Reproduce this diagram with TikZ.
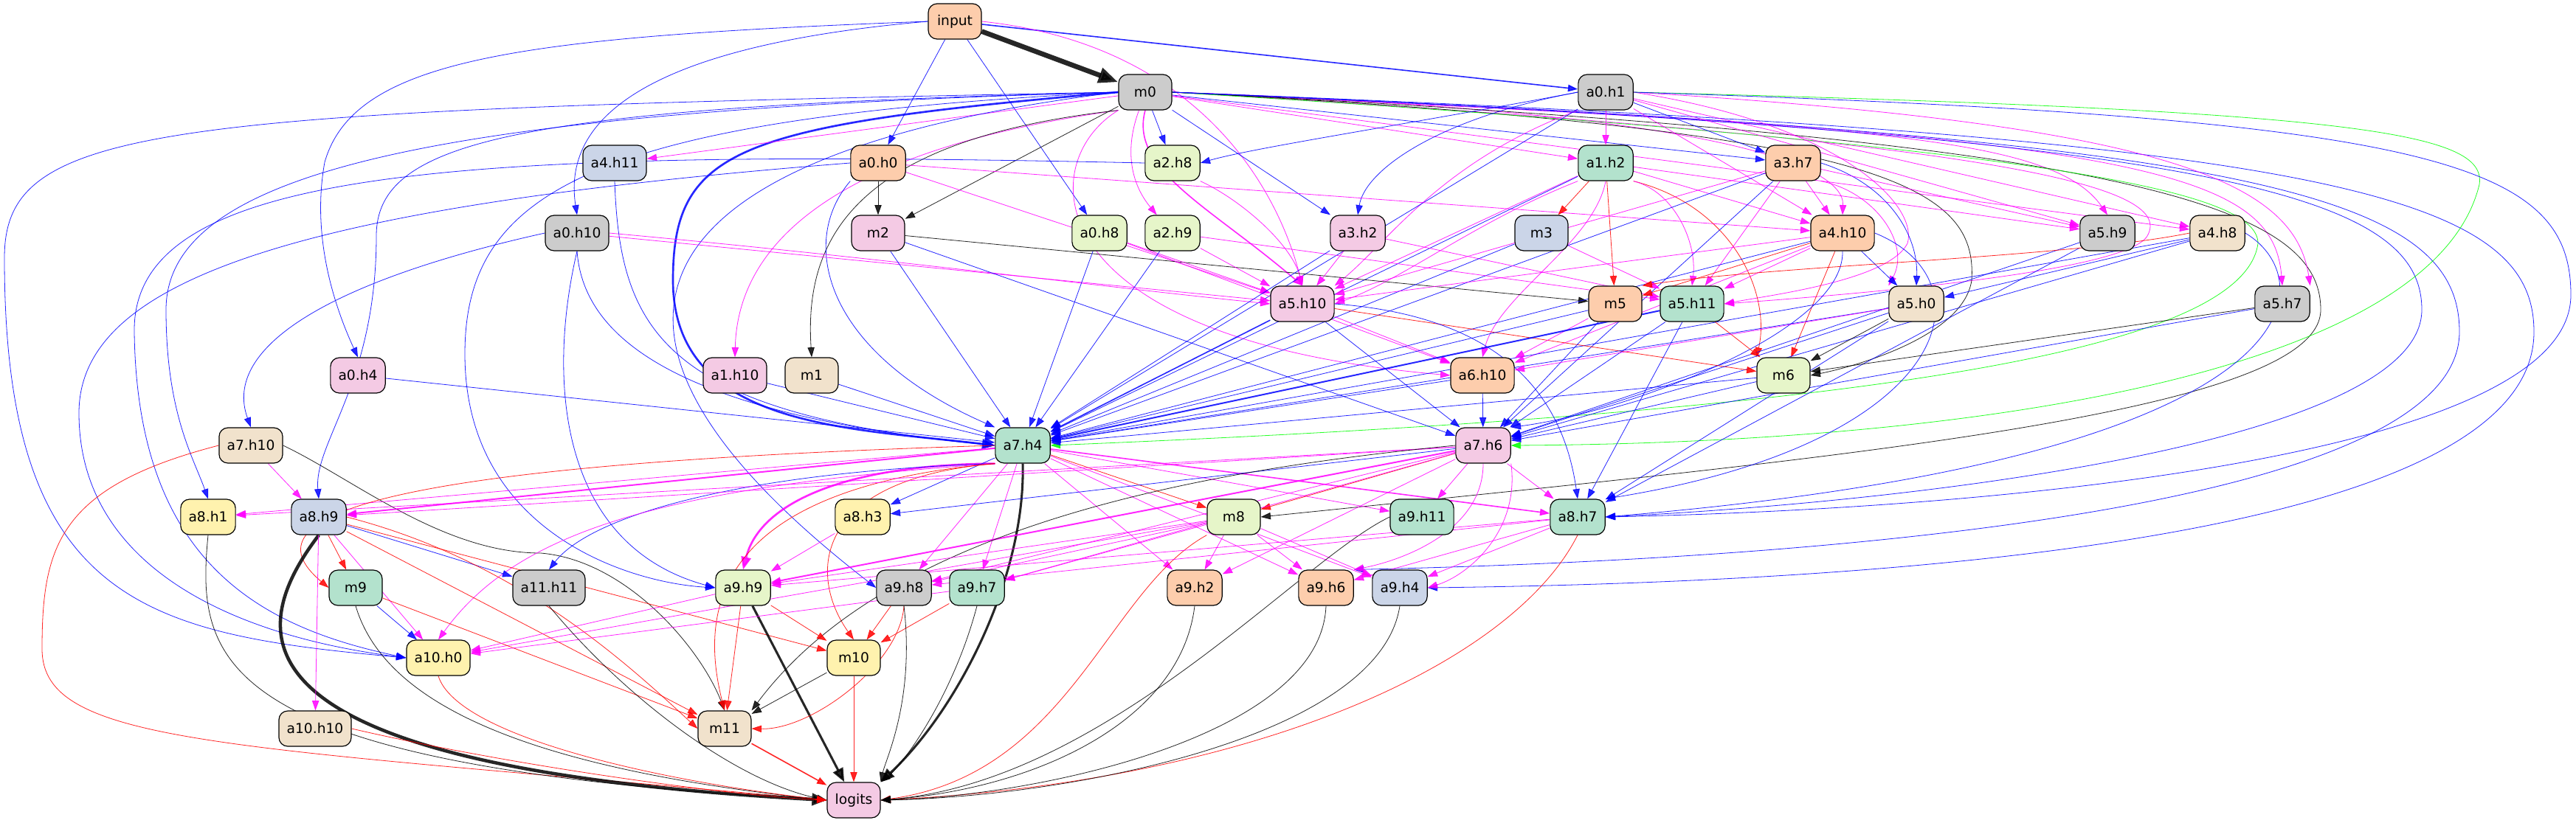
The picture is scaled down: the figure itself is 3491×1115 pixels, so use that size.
\documentclass[tikz,border=0pt]{standalone}
\usepackage{fontspec}
\setmainfont{DejaVu Sans}
\usetikzlibrary{arrows.meta}
\definecolor{cgreen}{HTML}{B3E2CD}
\definecolor{corange}{HTML}{FDCDAC}
\definecolor{cblue}{HTML}{CBD5E8}
\definecolor{cpink}{HTML}{F4CAE4}
\definecolor{clime}{HTML}{E6F5C9}
\definecolor{cyellow}{HTML}{FFF2AE}
\definecolor{cbeige}{HTML}{F1E2CC}
\definecolor{cgray}{HTML}{CCCCCC}
\definecolor{wmag}{RGB}{255,0,255}
\definecolor{wblue}{RGB}{0,0,255}
\definecolor{wred}{RGB}{255,0,0}
\definecolor{wgreen}{RGB}{0,255,0}
\pgfdeclarelayer{wires}
\pgfsetlayers{wires,main}
\tikzset{
  box/.style={draw, line width=0.9pt, rounded corners=9pt, minimum width=54pt,
    minimum height=36pt, inner xsep=8pt, font=\fontsize{14}{17}\selectfont},
  lnk/.style={-{Triangle[length=10pt,width=7pt]}, line width=0.6pt, opacity=0.85},
  blu/.style={lnk, wblue},
  mag/.style={lnk, wmag},
  rd/.style={lnk, wred},
  blk/.style={lnk, black},
  grn/.style={lnk, wgreen},
}
\begin{document}
\begin{tikzpicture}[x=0.75pt,y=-0.75pt]
        \useasboundingbox (0,0) rectangle (3491,1115);
        % rank 0 and 1
        \node[box, fill=corange] (input) at (1294,29)  {input};
        \node[box, fill=cgray]   (m0)    at (1552,125) {m0};
        \node[box, fill=cgray]   (a0h1)  at (2176,125) {a0.h1};
        % rank 2
        \node[box, fill=cblue]   (a4h11) at (833,221)  {a4.h11};
        \node[box, fill=corange] (a0h0)  at (1190,221) {a0.h0};
        \node[box, fill=clime]   (a2h8)  at (1589,221) {a2.h8};
        \node[box, fill=cgreen]  (a1h2)  at (2176,221) {a1.h2};
        \node[box, fill=corange] (a3h7)  at (2430,221) {a3.h7};
        % rank 3
        \node[box, fill=cgray]   (a0h10) at (782,316)  {a0.h10};
        \node[box, fill=cpink]   (m2)    at (1190,316) {m2};
        \node[box, fill=clime]   (a0h8)  at (1490,316) {a0.h8};
        \node[box, fill=clime]   (a2h9)  at (1589,316) {a2.h9};
        \node[box, fill=cpink]   (a3h2)  at (1840,316) {a3.h2};
        \node[box, fill=cblue]   (m3)    at (2089,316) {m3};
        \node[box, fill=corange] (a4h10) at (2497,316) {a4.h10};
        \node[box, fill=cgray]   (a5h9)  at (2856,316) {a5.h9};
        \node[box, fill=cbeige]  (a4h8)  at (3005,316) {a4.h8};
        % rank 4
        \node[box, fill=cpink]   (a5h10) at (1765,412) {a5.h10};
        \node[box, fill=corange] (m5)    at (2189,412) {m5};
        \node[box, fill=cgreen]  (a5h11) at (2293,412) {a5.h11};
        \node[box, fill=cbeige]  (a5h0)  at (2597,412) {a5.h0};
        \node[box, fill=cgray]   (a5h7)  at (3093,412) {a5.h7};
        % rank 5
        \node[box, fill=cpink]   (a0h4)  at (485,509)  {a0.h4};
        \node[box, fill=cpink]   (a1h10) at (996,509)  {a1.h10};
        \node[box, fill=cbeige]  (m1)    at (1100,509) {m1};
        \node[box, fill=corange] (a6h10) at (2009,509) {a6.h10};
        \node[box, fill=clime]   (m6)    at (2417,509) {m6};
        % rank 6
        \node[box, fill=cbeige]  (a7h10) at (340,604)  {a7.h10};
        \node[box, fill=cgreen]  (a7h4)  at (1386,604) {a7.h4};
        \node[box, fill=cpink]   (a7h6)  at (2010,604) {a7.h6};
        % rank 7
        \node[box, fill=cyellow] (a8h1)  at (282,701)  {a8.h1};
        \node[box, fill=cblue]   (a8h9)  at (432,701)  {a8.h9};
        \node[box, fill=cyellow] (a8h3)  at (1169,701) {a8.h3};
        \node[box, fill=clime]   (m8)    at (1672,701) {m8};
        \node[box, fill=cgreen]  (a9h11) at (1927,701) {a9.h11};
        \node[box, fill=cgreen]  (a8h7)  at (2138,701) {a8.h7};
        % rank 8
        \node[box, fill=cgreen]  (m9)    at (482,797)  {m9};
        \node[box, fill=cgray]   (a11h11) at (744,797) {a11.h11};
        \node[box, fill=clime]   (a9h9)  at (1007,797) {a9.h9};
        \node[box, fill=cgray]   (a9h8)  at (1225,797) {a9.h8};
        \node[box, fill=cgreen]  (a9h7)  at (1324,797) {a9.h7};
        \node[box, fill=corange] (a9h2)  at (1619,797) {a9.h2};
        \node[box, fill=corange] (a9h6)  at (1797,797) {a9.h6};
        \node[box, fill=cblue]   (a9h4)  at (1897,797) {a9.h4};
        % rank 9 to 11
        \node[box, fill=cyellow] (a10h0) at (594,892)  {a10.h0};
        \node[box, fill=cyellow] (m10)   at (1157,892) {m10};
        \node[box, fill=cbeige]  (a10h10) at (427,988) {a10.h10};
        \node[box, fill=cbeige]  (m11)   at (982,988)  {m11};
        \node[box, fill=cpink]   (logits) at (1157,1085) {logits};

        \begin{pgfonlayer}{wires}
        % input
        \draw[blk, line width=5pt, -{Triangle[length=20pt,width=15pt]}] (input) -- (m0);
        \draw[blu, line width=1.2pt] (input) -- (a0h1);
        \draw[blu] (input) -- (a0h0);
        \draw[blu] (input) -- (a0h8);
        \draw[mag] (input.east) .. controls (1620,60) and (1730,250) .. (a5h10.north);
        \draw[blu] (input.west) .. controls (700,50) and (480,80) .. (440,220) .. controls (420,330) and (460,430) .. (a0h4.north);
        \draw[blu] (input.west) .. controls (900,60) and (760,150) .. (a0h10.north);

        % m0
        \draw[blu, line width=2pt, -{Triangle[length=13pt,width=10pt]}] (m0.west) .. controls (1000,170) and (912,200) .. (912,380) .. controls (912,580) and (1150,580) .. (a7h4.west);
        \draw[mag] (m0) -- (a4h11);
        \draw[mag] (m0.south west) .. controls (1150,200) and (1000,320) .. (a1h10.north);
        \draw[blk] (m0.south west) .. controls (1150,190) and (1090,330) .. (m1.north);
        \draw[blk] (m0) -- (m2);
        \draw[blu] (m0) -- (a2h8);
        \draw[mag] (m0) to[bend right=30] (a2h9);
        \draw[mag, line width=1.2pt] (m0.south) .. controls (1530,230) and (1640,280) .. (a5h10.north);
        \draw[blu] (m0) -- (a3h2);
        \draw[mag] (m0) -- (a1h2);
        \draw[blu] (m0) -- (a3h7);
        \draw[mag] (m0.east) .. controls (2300,150) and (2500,220) .. (a4h10.north);
        \draw[mag] (m0.east) .. controls (2500,170) and (2780,180) .. (a5h9.north);
        \draw[mag] (m0) -- (a4h8);
        \draw[mag] (m0.east) .. controls (2900,180) and (3080,230) .. (a5h7.north);
        \draw[mag] (m0.east) .. controls (2700,190) and (2950,250) .. (2910,320) .. controls (2880,370) and (2500,400) .. (a5h11.east);
        \draw[mag] (m0.south west) .. controls (1400,220) and (1400,460) .. (a6h10.west);
        \draw[blk] (m0.east) .. controls (2550,175) and (2680,250) .. (2672,380) .. controls (2660,460) and (2500,500) .. (m6.east);
        \draw[blk] (m0.east) .. controls (2900,190) and (3145,280) .. (3145,420) .. controls (3145,560) and (2500,620) .. (m8.east);
        \draw[grn] (m0.east) .. controls (2800,200) and (3060,260) .. (3060,330) .. controls (3040,480) and (2500,560) .. (a7h4.east);
        \draw[blu] (m0.west) .. controls (600,150) and (225,230) .. (225,420) .. controls (225,560) and (262,620) .. (a8h1.north);
        \draw[blu] (m0.west) .. controls (700,145) and (510,190) .. (510,320) .. controls (510,520) and (425,600) .. (a8h9.north);
        \draw[blu] (m0.west) .. controls (200,150) and (6,170) .. (6,350) .. controls (6,820) and (200,860) .. (a10h0.west);
        \draw[blu] (m0.west) .. controls (800,160) and (630,260) .. (630,480) .. controls (630,720) and (850,790) .. (a9h9.west);
        \draw[blu] (m0.west) .. controls (900,200) and (700,420) .. (a9h8.west);
        \draw[blu] (m0.east) .. controls (3000,185) and (3282,260) .. (3282,420) .. controls (3282,600) and (2600,680) .. (a8h7.east);
        \draw[blu] (m0.east) .. controls (3050,185) and (3333,260) .. (3333,450) .. controls (3333,700) and (2400,760) .. (a9h6.north east);
        \draw[blu] (m0.east) .. controls (3150,185) and (3434,260) .. (3434,450) .. controls (3434,740) and (2500,790) .. (a9h4.east);

        % a0.h1
        \draw[mag] (a0h1) -- (a1h2);
        \draw[blu] (a0h1.west) .. controls (1900,170) and (1700,200) .. (a2h8.east);
        \draw[blu] (a0h1.west) .. controls (1950,160) and (1850,230) .. (a3h2.north);
        \draw[blu] (a0h1) -- (a3h7);
        \draw[mag] (a0h1) -- (a4h10);
        \draw[mag] (a0h1.south west) .. controls (1950,220) and (1880,330) .. (a5h10.north east);
        \draw[mag] (a0h1.east) .. controls (2500,170) and (2600,280) .. (2585,330) .. controls (2560,380) and (2400,400) .. (a5h11.east);
        \draw[mag] (a0h1) -- (a5h9);
        \draw[mag] (a0h1.east) .. controls (2950,170) and (3110,250) .. (a5h7.north east);
        \draw[mag] (a0h1) -- (a4h8);
        \draw[blu] (a0h1) -- (a7h4);
        \draw[grn] (a0h1.east) .. controls (3200,150) and (3370,180) .. (3360,250) .. controls (3300,500) and (2700,600) .. (a7h6.east);
        \draw[blu] (a0h1.east) .. controls (3300,160) and (3484,220) .. (3484,400) .. controls (3484,620) and (2700,690) .. (a8h7.east);

        % rank 2 sources
        \draw[blu] (a4h11.south) .. controls (840,450) and (900,560) .. (a7h4.west);
        \draw[blk] (a0h0) -- (m2);
        \draw[blu] (a0h0.south west) .. controls (1080,330) and (1120,480) .. (a7h4.north west);
        \draw[blu] (a0h0.west) .. controls (400,280) and (107,380) .. (107,560) .. controls (107,760) and (300,860) .. (a10h0.west);
        \draw[mag] (a0h0) -- (a4h10);
        \draw[mag] (a0h0) -- (a5h10);
        \draw[mag] (a2h8.south east) .. controls (1680,270) and (1750,330) .. (a5h10.north);
        \draw[blu] (a2h8.west) .. controls (600,200) and (179,230) .. (182,450) .. controls (186,760) and (350,850) .. (a10h0.west);
        \draw[rd] (a1h2) -- (m3);
        \draw[rd] (a1h2) -- (m5);
        \draw[rd] (a1h2.south east) .. controls (2350,280) and (2400,400) .. (m6.north west);
        \draw[mag] (a1h2) -- (a4h10);
        \draw[mag] (a1h2) -- (a5h9);
        \draw[mag] (a1h2) -- (a5h10);
        \draw[mag] (a1h2.south west) .. controls (2000,300) and (1900,380) .. (a5h10.east);
        \draw[mag] (a1h2.south east) .. controls (2270,260) and (2300,330) .. (a5h11.north);
        \draw[mag] (a1h2.south) .. controls (2160,330) and (2030,400) .. (a6h10.north);
        \draw[blu] (a1h2) -- (a7h4);
        \draw[mag] (a3h7) -- (a4h10);
        \draw[blu] (a3h7.east) .. controls (2560,250) and (2600,320) .. (a5h0.north);
        \draw[mag] (a3h7.south east) .. controls (2540,260) and (2590,330) .. (a5h0.north west);
        \draw[mag] (a3h7) -- (a5h9);
        \draw[mag] (a3h7) -- (a5h10);
        \draw[mag] (a3h7) -- (a5h11);
        \draw[blu] (a3h7) -- (a7h4);
        \draw[blu] (a3h7) -- (a7h6);

        % rank 3 sources
        \draw[mag] (a0h10) -- (a5h10);
        \draw[mag] (a0h10.east) .. controls (1200,350) and (1500,390) .. (a5h10.west);
        \draw[blu] (a0h10.south) .. controls (790,450) and (900,560) .. (a7h4.west);
        \draw[blu] (a0h10.south) .. controls (740,520) and (760,740) .. (a9h9.west);
        \draw[blu] (a0h10.west) .. controls (450,380) and (300,470) .. (a7h10.north);
        \draw[blk] (m2) -- (m5);
        \draw[blu] (m2) -- (a7h4);
        \draw[blu] (m2) -- (a7h6);
        \draw[blu] (a0h8) -- (a7h4);
        \draw[mag] (a0h8) -- (a5h10);
        \draw[mag] (a0h8) -- (a6h10);
        \draw[blu] (a2h9) -- (a7h4);
        \draw[mag] (a2h9) -- (a5h10);
        \draw[mag] (a2h9) -- (a5h11);
        \draw[mag] (a3h2) -- (a5h10);
        \draw[mag] (a3h2) -- (a5h11);
        \draw[blu] (a3h2) -- (a7h4);
        \draw[mag] (m3) -- (a5h11);
        \draw[blu] (m3) -- (a7h4);
        \draw[blu] (a4h10) -- (a5h0);
        \draw[rd] (a4h10) -- (m5);
        \draw[rd] (a4h10) -- (m6);
        \draw[mag] (a4h10) -- (a5h10);
        \draw[mag] (a4h10) -- (a5h11);
        \draw[mag] (a4h10) -- (a6h10);
        \draw[blu] (a4h10) -- (a7h4);
        \draw[blu] (a4h10.south) .. controls (2500,450) and (2200,560) .. (a7h6.north east);
        \draw[blu] (a4h10.east) .. controls (2700,380) and (2650,600) .. (a8h7.north east);
        \draw[blu] (a5h9) -- (a7h6);
        \draw[blu] (a5h9) -- (a8h7);
        \draw[blu] (a4h8) -- (a5h0);
        \draw[rd] (a4h8.west) .. controls (2800,350) and (2400,360) .. (m5.north east);
        \draw[blu] (a4h8) -- (a7h4);
        \draw[blu] (a4h8) -- (a7h6);
        \draw[blu] (a4h8.east) .. controls (3150,380) and (3150,620) .. (a8h7.east);

        % rank 4 sources
        \draw[blu, line width=1.2pt] (a5h10) -- (a7h4);
        \draw[blu] (a5h10) -- (a7h6);
        \draw[mag] (a5h10) -- (a6h10);
        \draw[rd] (a5h10) -- (m6);
        \draw[blu] (a5h10.east) .. controls (2050,430) and (2120,550) .. (a8h7.north);
        \draw[blu] (m5) -- (a7h4);
        \draw[blu] (m5) -- (a7h6);
        \draw[mag] (m5) -- (a6h10);
        \draw[blu, line width=1.5pt] (a5h11) -- (a7h4);
        \draw[blu] (a5h11) -- (a7h6);
        \draw[rd] (a5h11) -- (m6);
        \draw[blu] (a5h11) -- (a8h7);
        \draw[blk] (a5h0) -- (m6);
        \draw[blu] (a5h0) -- (a7h4);
        \draw[blu] (a5h0) -- (a7h6);
        \draw[blu] (a5h0) -- (a8h7);
        \draw[mag] (a5h0) -- (a6h10);
        \draw[blk] (a5h7) -- (m6);
        \draw[blu] (a5h7) -- (a7h6);

        % rank 5 sources
        \draw[blu] (a0h4) -- (a7h4);
        \draw[blu] (a1h10) -- (a7h4);
        \draw[blu] (m1) -- (a7h4);
        \draw[blu] (a6h10) -- (a7h6);
        \draw[blu] (a6h10) -- (a7h4);
        \draw[blu] (m6) -- (a7h4);
        \draw[blu] (m6) -- (a7h6);

        % rank 6 sources
        \draw[mag] (a7h10) -- (a8h9);
        \draw[blk] (a7h10.east) .. controls (480,650) and (600,750) .. (733,750) .. controls (850,760) and (950,880) .. (m11.north);
        \draw[rd] (a7h10.west) .. controls (80,660) and (57,740) .. (57,880) .. controls (57,1010) and (300,1010) .. (logits.west);
        \draw[blk, line width=2.3pt, -{Triangle[length=14pt,width=11pt]}] (a7h4.south) .. controls (1390,780) and (1300,960) .. (logits.north east);
        \draw[mag, line width=2pt, -{Triangle[length=13pt,width=10pt]}] (a7h4.south west) .. controls (1150,630) and (1030,680) .. (a9h9.north);
        \draw[mag, line width=1.5pt] (a7h4) -- (a8h9);
        \draw[mag] (a7h4) -- (a8h1);
        \draw[blu] (a7h4) -- (a8h3);
        \draw[rd] (a7h4) -- (m8);
        \draw[rd] (a7h4.west) .. controls (500,630) and (330,700) .. (m9.west);
        \draw[blu] (a7h4.south west) .. controls (1000,640) and (800,700) .. (a11h11.north);
        \draw[mag] (a7h4.south west) .. controls (900,660) and (700,720) .. (a10h0.north);
        \draw[rd] (a7h4.south west) .. controls (1100,650) and (1095,780) .. (m10.north);
        \draw[rd] (a7h4.south west) .. controls (1000,660) and (940,800) .. (m11.north);
        \draw[mag] (a7h4) -- (a9h8);
        \draw[mag] (a7h4) -- (a9h7);
        \draw[mag] (a7h4) -- (a9h2);
        \draw[mag] (a7h4) -- (a9h6);
        \draw[mag] (a7h4) -- (a9h4);
        \draw[mag, line width=1.2pt] (a7h4) -- (a8h7);
        \draw[mag] (a7h4) -- (a9h11);
        \draw[rd] (a7h6) -- (m8);
        \draw[mag] (a7h6) -- (a9h11);
        \draw[mag] (a7h6) -- (a8h7);
        \draw[mag] (a7h6.south) .. controls (2010,720) and (1900,760) .. (a9h6.north east);
        \draw[mag] (a7h6.south east) .. controls (2060,720) and (1990,780) .. (a9h4.east);
        \draw[mag] (a7h6) -- (a8h9);
        \draw[mag] (a7h6) -- (a8h1);
        \draw[mag, line width=1.5pt] (a7h6) -- (a9h9);
        \draw[mag] (a7h6) -- (a9h8);
        \draw[mag] (a7h6) -- (a9h7);
        \draw[mag] (a7h6) -- (a9h2);
        \draw[blu] (a7h6) -- (a8h3);
        \draw[blk] (a7h6.west) .. controls (1600,640) and (1200,720) .. (m11.north east);

        % rank 7 sources
        \draw[blk] (a8h1.south) .. controls (265,900) and (290,1040) .. (logits.west);
        \draw[blk, line width=3.4pt, -{Triangle[length=15pt,width=12pt]}] (a8h9.south) .. controls (330,860) and (300,1040) .. (logits.west);
        \draw[rd] (a8h9) -- (m9);
        \draw[mag] (a8h9) -- (a10h10);
        \draw[mag] (a8h9) -- (a10h0);
        \draw[blu] (a8h9) -- (a11h11);
        \draw[rd] (a8h9) -- (m10);
        \draw[rd] (a8h9) -- (m11);
        \draw[rd] (a8h9.east) .. controls (700,760) and (850,900) .. (m11.west);
        \draw[mag] (a8h3) -- (a9h9);
        \draw[mag] (m8) -- (a9h2);
        \draw[mag] (m8) -- (a9h7);
        \draw[mag] (m8) -- (a9h8);
        \draw[mag] (m8) -- (a9h9);
        \draw[mag] (m8) -- (a10h0);
        \draw[mag] (m8) -- (a9h6);
        \draw[mag] (m8) -- (a9h4);
        \draw[rd] (m8.south west) .. controls (1500,800) and (1450,1050) .. (logits.east);
        \draw[blk] (a9h11.west) .. controls (1760,760) and (1500,1060) .. (logits.east);
        \draw[mag] (a8h7) -- (a9h6);
        \draw[mag] (a8h7) -- (a9h4);
        \draw[mag] (a8h7) -- (a9h8);
        \draw[mag] (a8h7) -- (a9h9);
        \draw[rd] (a8h7.south) .. controls (2050,900) and (1700,1060) .. (logits.east);

        % rank 8 and below
        \draw[blu] (m9) -- (a10h0);
        \draw[rd] (m9) -- (m11);
        \draw[blk] (m9.south) .. controls (520,950) and (700,1040) .. (logits.west);
        \draw[blk] (a11h11.south) .. controls (850,950) and (1000,1060) .. (logits.west);
        \draw[blk, line width=2.3pt, -{Triangle[length=14pt,width=11pt]}] (a9h9) -- (logits);
        \draw[rd] (a9h9) -- (m11);
        \draw[rd] (a9h9) -- (m10);
        \draw[mag] (a9h9) -- (a10h0);
        \draw[rd] (a9h8) -- (m10);
        \draw[rd] (a9h8.south) .. controls (1220,900) and (1100,990) .. (m11.east);
        \draw[blk] (a9h8.south) .. controls (1240,950) and (1200,1030) .. (logits.north east);
        \draw[rd] (a9h7) -- (m10);
        \draw[blk] (a9h7.south) .. controls (1290,950) and (1220,1040) .. (logits.north east);
        \draw[mag] (a9h7) -- (a10h0);
        \draw[blk] (a9h2.south) .. controls (1600,980) and (1400,1070) .. (logits.east);
        \draw[blk] (a9h6.south) .. controls (1790,1000) and (1400,1080) .. (logits.east);
        \draw[blk] (a9h4.south) .. controls (1870,1000) and (1450,1080) .. (logits.east);
        \draw[rd] (a10h0.south) .. controls (620,1000) and (900,1060) .. (logits.west);
        \draw[blk] (m10) -- (m11);
        \draw[rd] (m10) -- (logits);
        \draw[rd] (a10h10.east) .. controls (700,1040) and (1000,1080) .. (logits.west);
        \draw[rd, line width=1.2pt] (m11) -- (logits);
        \end{pgfonlayer}
\end{tikzpicture}
\end{document}
